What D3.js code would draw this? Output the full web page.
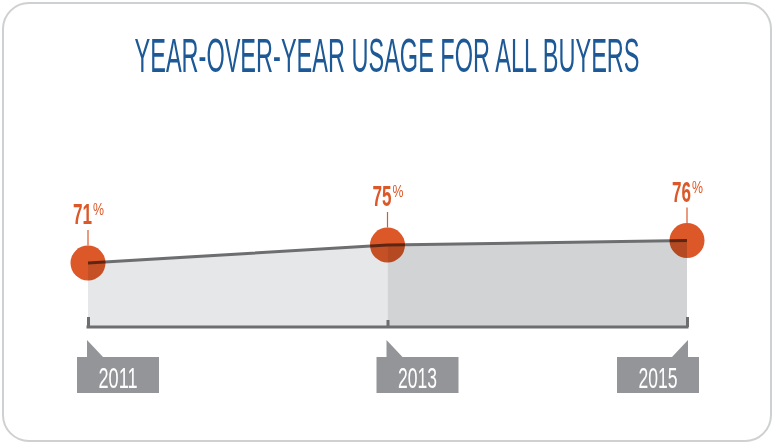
<!DOCTYPE html>
<html>
<head>
<meta charset="utf-8">
<script src="https://cdn.jsdelivr.net/npm/d3@7"></script>
<style>
  body { margin: 0; background: #fff; }
  svg { display: block; }
  .cond { font-family: "Liberation Sans Narrow", "Liberation Sans", "DejaVu Sans", sans-serif; font-stretch: condensed; }
</style>
</head>
<body>
<svg id="chart"></svg>
<script>
// data
var years = ["2011", "2013", "2015"];
var usage = [71, 75, 76];
var title = "YEAR-OVER-YEAR USAGE FOR ALL BUYERS";

var width = 774, height = 445;
var orange = "#dc5828", grey = "#6d6e70", boxGrey = "#939598";

var svg = d3.select("#chart").attr("width", width).attr("height", height);

var x = d3.scalePoint().domain(years).range([88, 687]);
var y = d3.scaleLinear().domain([57, 76]).range([326, 240.5]);
var base = 327;

var pts = years.map(function(d, i) { return {year: d, v: usage[i]}; });

// frame
svg.append("rect")
  .attr("x", 3).attr("y", 3).attr("width", width - 6).attr("height", height - 7)
  .attr("rx", 26).attr("fill", "none").attr("stroke", "#cfd0d1").attr("stroke-width", 2);

// title
svg.append("text").attr("class", "cond")
  .attr("x", 387).attr("y", 72).attr("text-anchor", "middle")
  .attr("font-size", 48).attr("fill", "#1d5996")
  .attr("textLength", 505).attr("lengthAdjust", "spacingAndGlyphs")
  .text(title);

// shaded areas, one per segment
var segFill = ["#e6e7e8", "#d1d3d4"];
var area = d3.area().x(function(d) { return x(d.year); }).y0(base).y1(function(d) { return y(d.v); });
for (var i = 0; i < pts.length - 1; i++) {
  svg.append("path").datum([pts[i], pts[i + 1]])
    .attr("d", area).attr("fill", segFill[i]);
}

// line
svg.append("path").datum(pts)
  .attr("d", d3.line().x(function(d) { return x(d.year); }).y(function(d) { return y(d.v); }))
  .attr("fill", "none").attr("stroke", grey).attr("stroke-width", 3);

// axis with end brackets and middle tick
var axis = d3.axisBottom(x).tickSize(0).tickFormat("");
var ag = svg.append("g").attr("transform", "translate(0," + base + ")").call(axis);
ag.select(".domain").remove();
ag.append("line").attr("x1", x(years[0]) - 1.5).attr("x2", x(years[2]) + 1.5)
  .attr("stroke", grey).attr("stroke-width", 3);
ag.selectAll(".tick line")
  .attr("y1", 0)
  .attr("y2", function(d, i) { return (i === 0 || i === years.length - 1) ? -10 : -7; })
  .attr("stroke", grey).attr("stroke-width", 3);

// year label boxes with notch
var bw = 82, bh = 36, by = 357, ny = 340;
var lbl = svg.selectAll(".yr").data(years).enter().append("g").attr("class", "yr");
lbl.append("path")
  .attr("fill", boxGrey)
  .attr("d", function(d, i) {
    var cx = x(d), last = i === years.length - 1;
    var bx = last ? cx + 12 - bw : cx - 11;
    var notch = last
      ? "M" + (cx + 1) + "," + ny + "L" + (cx + 1) + "," + by + "L" + (cx - 15) + "," + by + "Z"
      : "M" + (cx - 1) + "," + ny + "L" + (cx - 1) + "," + by + "L" + (cx + 15) + "," + by + "Z";
    return "M" + bx + "," + by + "h" + bw + "v" + bh + "h" + (-bw) + "Z" + notch;
  });
lbl.append("text").attr("class", "cond")
  .attr("x", function(d, i) { var cx = x(d); return i === years.length - 1 ? cx + 12 - bw / 2 : cx - 11 + bw / 2; })
  .attr("y", 388).attr("text-anchor", "middle")
  .attr("font-size", 30).attr("fill", "#fff")
  .attr("textLength", 39).attr("lengthAdjust", "spacingAndGlyphs")
  .text(function(d) { return d; });

// circles
var r = 17.5;
svg.selectAll(".dot").data(pts).enter().append("circle")
  .attr("cx", function(d) { return x(d.year); })
  .attr("cy", function(d) { return y(d.v); })
  .attr("r", r).attr("fill", orange)
  .style("mix-blend-mode", "multiply");

// pointer lines and value labels
svg.selectAll(".ptr").data(pts).enter().append("line")
  .attr("x1", function(d) { return x(d.year); }).attr("x2", function(d) { return x(d.year); })
  .attr("y1", function(d) { return y(d.v) - r; })
  .attr("y2", function(d) { return y(d.v) - 33; })
  .attr("stroke", orange).attr("stroke-width", 1.2);

svg.selectAll(".val").data(pts).enter().append("text").attr("class", "cond")
  .attr("x", function(d) { return x(d.year) + 4; })
  .attr("y", function(d) { return y(d.v) - 39; })
  .attr("text-anchor", "end")
  .attr("fill", orange).attr("font-weight", "bold").attr("font-size", 29)
  .attr("textLength", 19).attr("lengthAdjust", "spacingAndGlyphs")
  .text(function(d) { return d.v; });
svg.selectAll(".pct").data(pts).enter().append("text").attr("class", "cond")
  .attr("x", function(d) { return x(d.year) + 5; })
  .attr("y", function(d) { return y(d.v) - 48; })
  .attr("fill", orange).attr("font-size", 16)
  .attr("textLength", 11).attr("lengthAdjust", "spacingAndGlyphs")
  .text("%");
</script>
</body>
</html>
